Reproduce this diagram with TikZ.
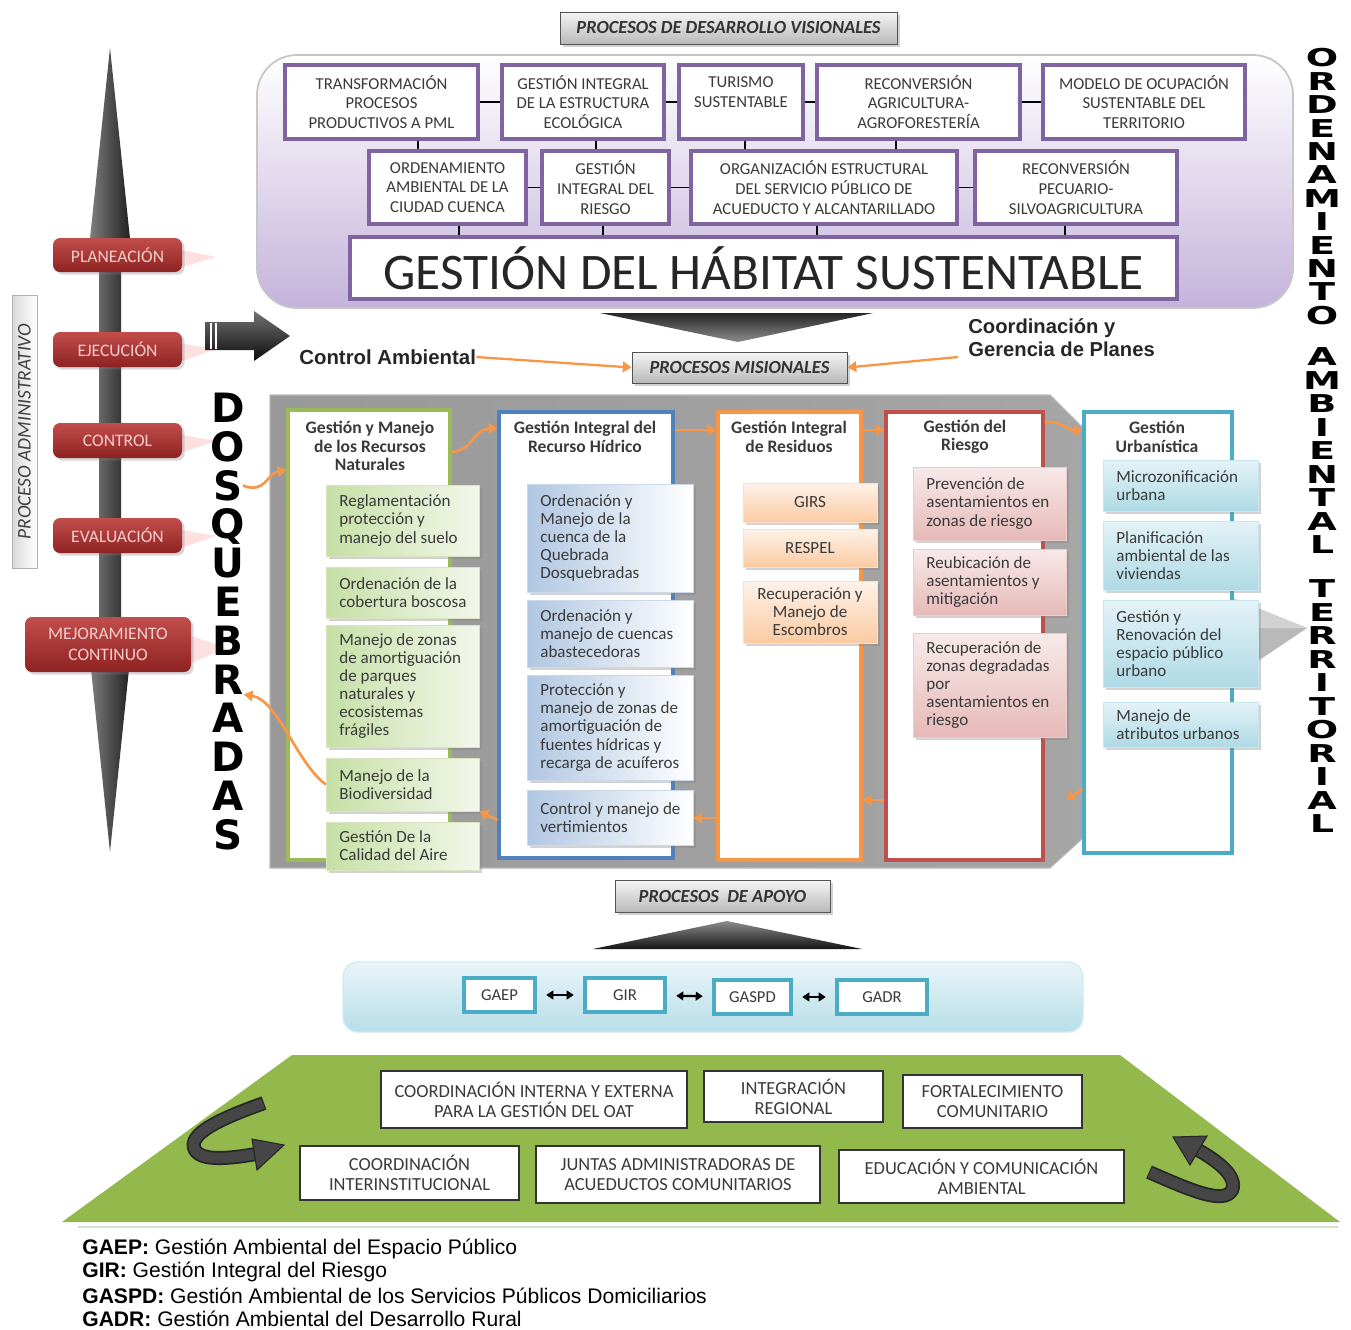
\documentclass[tikz,border=0pt]{standalone}
\usepackage{fontspec}
\setmainfont{Carlito}
\newfontfamily\arialf{Liberation Sans}
\newfontfamily\heavyf{DejaVu Sans}
\newfontfamily\widef{DejaVu Sans}[FakeStretch=1.55]
\usetikzlibrary{shadows,arrows.meta,calc}
\definecolor{purpB}{HTML}{8064A2}
\definecolor{lav}{HTML}{C4B3DB}
\definecolor{grnB}{HTML}{9BBB59}
\definecolor{bluB}{HTML}{4F81BD}
\definecolor{orgB}{HTML}{F79646}
\definecolor{redB}{HTML}{C0504D}
\definecolor{cyaB}{HTML}{4BACC6}
\definecolor{txt}{HTML}{3A3A3A}
\definecolor{trap}{HTML}{93B84C}
\definecolor{rbTop}{HTML}{C24E4B}
\definecolor{rbBot}{HTML}{8E2222}
\definecolor{rbTxt}{HTML}{F3CFCC}
\newcommand\mkbox[7][]{\node[#1,minimum width={(#5-#3)*0.02cm},minimum height={(#6-#4)*0.02cm}] (#2) at ({(#3+#5)/2},{(#4+#6)/2}) {#7};}
\newcommand\subbx[7]{\node[#1,minimum width={(#5-#3)*0.02cm},minimum height={(#6-#4)*0.02cm}] (#2) at ({(#3+#5)/2},{(#4+#6)/2}) {};
\node[subtxt,anchor=west] (#2t) at ({#3+13},{(#4+#6)/2}) {#7};}
\begin{document}
\begin{tikzpicture}[x=0.02cm,y=-0.02cm,
 topbox/.style={draw=purpB,line width=1.8pt,fill=white,align=center,text=txt,font=\fontsize{9.5}{11.3}\selectfont,inner sep=1pt},
 glabel/.style={draw=gray!65!black,line width=0.5pt,top color=gray!8,bottom color=gray!55,font=\fontsize{10.5}{12}\selectfont\bfseries\itshape,text=black!80,drop shadow={opacity=0.35,shadow xshift=1.5pt,shadow yshift=-1.5pt}},
 col/.style={fill=white,line width=1.8pt},
 coltitle/.style={font=\fontsize{10}{10.4}\selectfont\bfseries,align=center,text=txt,inner sep=0pt},
 subtxt/.style={align=left,text=txt,font=\fontsize{9.7}{10.3}\selectfont,inner sep=0pt},
 ctxt/.style={align=center,text=txt,font=\fontsize{9.7}{10.3}\selectfont,inner sep=0pt},
 sh/.style={drop shadow={opacity=0.35,shadow xshift=1.5pt,shadow yshift=-1.5pt}},
 gsub/.style={sh,left color=green!30!olive!35!white,right color=green!20!olive!8!white,draw=grnB!40,line width=0.3pt},
 bsub/.style={sh,left color=bluB!45!white,right color=white,draw=bluB!30,line width=0.3pt},
 osub/.style={sh,top color=orgB!12!white,bottom color=orgB!50!white,draw=orgB!30,line width=0.3pt},
 rsub/.style={sh,top color=redB!12!white,bottom color=redB!40!white,draw=redB!30,line width=0.3pt},
 csub/.style={sh,top color=cyaB!15!white,bottom color=cyaB!45!white,draw=cyaB!30,line width=0.3pt},
 rbtn/.style={rounded corners=4pt,top color=rbTop,bottom color=rbBot,text=rbTxt,font=\fontsize{10}{12}\selectfont,align=center,inner sep=1pt,drop shadow={opacity=0.3,shadow xshift=1.5pt,shadow yshift=-1.5pt}},
 wbox/.style={draw=black!80,line width=0.8pt,fill=white,align=center,text=txt,font=\fontsize{10.5}{11.3}\selectfont,inner sep=1pt},
 abox/.style={draw=cyaB,line width=1.8pt,fill=white,text=txt,font=\fontsize{9.5}{11}\selectfont,inner sep=1pt},
 oarr/.style={draw=orgB,line width=1.5pt,-{Triangle[length=5pt,width=6pt]}},
 dq/.style={font=\heavyf\bfseries\fontsize{23}{23}\selectfont,inner sep=0pt,text height=16.5pt,text depth=0pt},
 ot/.style={font=\widef\bfseries\fontsize{14}{14}\selectfont,inner sep=0pt,text height=10.2pt,text depth=0pt},
 conn/.style={draw=black,line width=0.6pt},
 lg/.style={anchor=west,font=\arialf\fontsize{12}{13}\selectfont,inner sep=0pt}
]
\useasboundingbox (0,0) rectangle (1351,1329);
\fill[white] (0,0) rectangle (1351,1329);

% ---------- top: visional processes ----------
\mkbox[glabel]{pdv}{560}{12}{897}{44}{PROCESOS DE DESARROLLO VISIONALES}
\mkbox[rounded corners=0.8cm,top color=white,bottom color=lav,draw=gray!45,line width=1pt]{purp}{257}{55}{1293}{308}{}

\mkbox[topbox]{B1}{285}{65}{478}{139}{TRANSFORMACIÓN\\PROCESOS\\PRODUCTIVOS A PML}
\mkbox[topbox]{B2}{502}{65}{664}{139}{GESTIÓN INTEGRAL\\DE LA ESTRUCTURA\\ECOLÓGICA}
\mkbox[topbox]{B3}{679}{65}{803}{139}{TURISMO\\SUSTENTABLE\\~}
\mkbox[topbox]{B4}{817}{65}{1020}{139}{RECONVERSIÓN\\AGRICULTURA-\\AGROFORESTERÍA}
\mkbox[topbox]{B5}{1043}{65}{1245}{139}{MODELO DE OCUPACIÓN\\SUSTENTABLE DEL\\TERRITORIO}
\mkbox[topbox]{C1}{369}{151}{526}{224}{ORDENAMIENTO\\AMBIENTAL DE LA\\CIUDAD CUENCA}
\mkbox[topbox]{C2}{542}{151}{669}{224}{GESTIÓN\\INTEGRAL DEL\\RIESGO}
\mkbox[topbox]{C3}{691}{151}{957}{224}{ORGANIZACIÓN ESTRUCTURAL\\DEL SERVICIO PÚBLICO DE\\ACUEDUCTO Y ALCANTARILLADO}
\mkbox[topbox]{C4}{975}{151}{1177}{224}{RECONVERSIÓN\\PECUARIO-\\SILVOAGRICULTURA}
\mkbox[topbox,line width=2pt,font=\fontsize{29.2}{31}\selectfont,text=black!85]{GH}{350}{237}{1177}{299}{GESTIÓN DEL HÁBITAT SUSTENTABLE}

\draw[conn] (B1) -- (B2); \draw[conn] (B2) -- (B3); \draw[conn] (B3) -- (B4); \draw[conn] (B4) -- (B5);
\draw[conn] (C1) -- (C2); \draw[conn] (C2) -- (C3); \draw[conn] (C3) -- (C4);
\draw[conn] (B1.south -| 418,0) -- (C1.north -| 418,0);
\draw[conn] (B2.south -| 596,0) -- (C2.north -| 596,0);
\draw[conn] (B3.south -| 745,0) -- (C3.north -| 745,0);
\draw[conn] (B4.south -| 896,0) -- (C3.north -| 896,0);
\draw[conn] (C1.south -| 459,0) -- (GH.north -| 459,0);
\draw[conn] (C2.south -| 603,0) -- (GH.north -| 603,0);
\draw[conn] (C3.south -| 817,0) -- (GH.north -| 817,0);
\draw[conn] (C4.south -| 1065,0) -- (GH.north -| 1065,0);

% chevron under top block
\shade[top color=black!85,bottom color=black!45] (600,313) -- (873,313) -- (738,342) -- cycle;

% ---------- left administrative process ----------
\shade[left color=black!50,right color=black!88] (110,48) -- (131,248) -- (121,248) -- (121,650) -- (131,650) -- (110,852) -- (89,650) -- (99,650) -- (99,248) -- (89,248) -- cycle;
\foreach \ya/\yb/\yt in {248/270/257, 342/365/349, 433/456/441, 528/551/536} {
  \fill[red!12] (172,\ya) -- (216,\yt) -- (172,\yb) -- cycle;}
\fill[red!12] (180,632) -- (226,648) -- (180,668) -- cycle;
\mkbox[rbtn]{pl}{53}{238}{182}{272}{PLANEACIÓN}
\mkbox[rbtn]{ej}{53}{332}{182}{367}{EJECUCIÓN}
\mkbox[rbtn]{co}{53}{423}{182}{458}{CONTROL}
\mkbox[rbtn]{ev}{53}{518}{182}{553}{EVALUACIÓN}
\mkbox[rbtn]{me}{25}{617}{191}{672}{MEJORAMIENTO\\CONTINUO}
\node[rotate=90,minimum width=273*0.02cm,minimum height=25*0.02cm,draw=gray!60,left color=gray!30,right color=white,font=\itshape\fontsize{11}{12}\selectfont,text=gray!50!black,inner sep=0pt] (pa) at (24.5,431.5) {PROCESO ADMINISTRATIVO};

% black block arrow
\shade[top color=black!55,bottom color=black!95] (205,322) -- (254,322) -- (254,311) -- (290,336) -- (254,361) -- (254,350) -- (205,350) -- cycle;
\draw[white,line width=0.9pt] (211,323) -- (211,349) (216,323) -- (216,349);

% DOSQUEBRADAS
\foreach \l [count=\i from 0] in {D,O,S,Q,U,E,B,R,A,D,A,S} {\node[dq] (dq\i) at (228,{408+38.8*\i}) {\l};}

% ORDENAMIENTO AMBIENTAL TERRITORIAL
\foreach \l [count=\i from 0] in {O,R,D,E,N,A,M,I,E,N,T,O} {\node[ot] (ro\i) at (1322,{58+23.4*\i}) {\l};}
\foreach \l [count=\i from 0] in {A,M,B,I,E,N,T,A,L} {\node[ot] (ra\i) at (1322,{357+23.5*\i}) {\l};}
\foreach \l [count=\i from 0] in {T,E,R,R,I,T,O,R,I,A,L} {\node[ot] (rt\i) at (1322,{589+23.5*\i}) {\l};}

% ---------- missional processes ----------
\mkbox[glabel]{pm}{632}{352}{847}{383}{PROCESOS MISIONALES}
\node[anchor=west,font=\arialf\bfseries\fontsize{11.6}{13}\selectfont,inner sep=0pt,text=black!85] (ca) at (299,357) {Control Ambiental};
\node[anchor=north west,align=left,font=\arialf\bfseries\fontsize{11.5}{13.2}\selectfont,inner sep=0pt,text=black!85] (cg) at (968,318) {Coordinación y\\Gerencia de Planes};
\draw[oarr,line width=1.3pt] (ca.east) -- (pm.west);
\coordinate (cgs) at (958,357);
\draw[oarr,line width=1.3pt] (cgs) -- (pm.east);

% gray panel
\shade[left color=gray!80,middle color=gray!22,right color=gray!70] (270,395) -- (1050,395) -- (1083,428) -- (1083,838) -- (1050,868) -- (270,868) -- cycle;
\draw[gray!55,line width=0.6pt] (270,395) -- (1050,395) -- (1083,428) -- (1083,838) -- (1050,868) -- (270,868) -- cycle;
\fill[gray!55] (1200,585) -- (1307,628) -- (1200,700) -- cycle;
\fill[gray!35] (1200,585) -- (1307,628) -- (1200,628) -- cycle;

% columns
\mkbox[col,draw=grnB]{gr}{288}{410}{450}{860}{}
\mkbox[col,draw=bluB]{bl}{499}{412}{673}{858}{}
\mkbox[col,draw=orgB]{or}{718}{412}{861}{860}{}
\mkbox[col,draw=redB]{rd}{886}{412}{1043}{860}{}
\mkbox[col,draw=cyaB]{cy}{1084}{412}{1232}{853}{}

\node[coltitle] (grt) at (370,446) {Gestión y Manejo\\de los Recursos\\Naturales};
\node[coltitle] (blt) at (585,437) {Gestión Integral del\\Recurso Hídrico};
\node[coltitle] (ort) at (789,437) {Gestión Integral\\de Residuos};
\node[coltitle] (rdt) at (965,437) {Gestión del\\Riesgo};
\node[coltitle] (cyt) at (1157,437) {Gestión\\Urbanística};

\subbx{gsub}{g1}{326}{485}{479}{556}{Reglamentación\\protección y\\manejo del suelo}
\subbx{gsub}{g2}{326}{567}{479}{618}{Ordenación de la\\cobertura boscosa}
\subbx{gsub}{g3}{326}{625}{479}{747}{Manejo de zonas\\de amortiguación\\de parques\\naturales y\\ecosistemas\\frágiles}
\subbx{gsub}{g4}{326}{758}{479}{811}{Manejo de la\\Biodiversidad}
\subbx{gsub}{g5}{326}{822}{479}{870}{Gestión De la\\Calidad del Aire}

\subbx{bsub}{b1}{527}{484}{693}{592}{Ordenación y\\Manejo de la\\cuenca de la\\Quebrada\\Dosquebradas}
\subbx{bsub}{b2}{527}{600}{693}{667}{Ordenación y\\manejo de cuencas\\abastecedoras}
\subbx{bsub}{b3}{527}{675}{693}{780}{Protección y\\manejo de zonas de\\amortiguación de\\fuentes hídricas y\\recarga de acuíferos}
\subbx{bsub}{b4}{527}{790}{693}{845}{Control y manejo de\\vertimientos}

\mkbox[osub,ctxt]{o1}{743}{483}{877}{522}{GIRS}
\mkbox[osub,ctxt]{o2}{743}{529}{877}{567}{RESPEL}
\mkbox[osub,ctxt]{o3}{743}{581}{877}{643}{Recuperación y\\Manejo de\\Escombros}

\subbx{rsub}{r1}{913}{467}{1066}{540}{Prevención de\\asentamientos en\\zonas de riesgo}
\subbx{rsub}{r2}{913}{549}{1066}{615}{Reubicación de\\asentamientos y\\mitigación}
\subbx{rsub}{r3}{913}{633}{1066}{737}{Recuperación de\\zonas degradadas\\por\\asentamientos en\\riesgo}

\subbx{csub}{c1}{1103}{460}{1258}{511}{Microzonificación\\urbana}
\subbx{csub}{c2}{1103}{521}{1258}{590}{Planificación\\ambiental de las\\viviendas}
\subbx{csub}{c3}{1103}{600}{1258}{687}{Gestión y\\Renovación del\\espacio público\\urbano}
\subbx{csub}{c4}{1103}{702}{1258}{747}{Manejo de\\atributos urbanos}

% orange flow arrows
\draw[oarr] (dq2.east) .. controls (266,494) and (266,474) .. (gr.west |- 0,470);
\draw[oarr] (gr.east |- 0,452) .. controls (474,450) and (472,430) .. (bl.west |- 0,428);
\draw[oarr] (bl.east |- 0,430) -- (or.west |- 0,430);
\draw[oarr] (or.east |- 0,430) -- (rd.west |- 0,430);
\draw[oarr] (rd.east |- 0,422) .. controls (1062,421) and (1068,430) .. (cy.west |- 0,431);
\coordinate (k1) at (1066,800);
\draw[oarr] (cy.west |- 0,789) -- (k1);
\draw[oarr] (rd.west |- 0,800) -- (or.east |- 0,800);
\draw[oarr] (or.west |- 0,818) -- (b4.east |- 0,818);
\draw[oarr] (bl.west |- 0,820) -- (g4.south east);
\draw[oarr] (g4.west) .. controls (296,762) and (278,700) .. (dq7.south east);

% ---------- support processes ----------
\mkbox[glabel]{pap}{615}{880}{830}{912}{PROCESOS\ \ DE APOYO}
\shade[top color=black!45,bottom color=black!92] (593,949) -- (727,921) -- (862,949) -- cycle;
\mkbox[rounded corners=0.3cm,top color=cyaB!12!white,bottom color=cyaB!40!white,draw=cyaB!25,line width=0.8pt]{bar}{343}{962}{1083}{1032}{}
\mkbox[abox]{gaep}{464}{978}{535}{1012}{GAEP}
\mkbox[abox]{gir}{585}{978}{665}{1012}{GIR}
\mkbox[abox]{gaspd}{714}{980}{791}{1014}{GASPD}
\mkbox[abox]{gadr}{837}{980}{927}{1014}{GADR}
\draw[{Triangle[length=4pt,width=5pt]}-{Triangle[length=4pt,width=5pt]},line width=1.3pt,shorten >=5.5pt,shorten <=5.5pt] (gaep) -- (gir);
\draw[{Triangle[length=4pt,width=5pt]}-{Triangle[length=4pt,width=5pt]},line width=1.3pt,shorten >=5.5pt,shorten <=5.5pt] (gir) -- (gaspd);
\draw[{Triangle[length=4pt,width=5pt]}-{Triangle[length=4pt,width=5pt]},line width=1.3pt,shorten >=5.5pt,shorten <=5.5pt] (gaspd) -- (gadr);

% green trapezoid
\fill[trap] (292,1055) -- (1120,1055) -- (1340,1222) -- (62,1222) -- cycle;
\draw[green!25!gray!30,line width=1.5pt] (78,1227) -- (1338,1227);
\mkbox[wbox]{w1}{381}{1071}{687}{1128}{COORDINACIÓN INTERNA Y EXTERNA\\PARA LA GESTIÓN DEL OAT}
\mkbox[wbox]{w2}{704}{1071}{883}{1122}{INTEGRACIÓN\\REGIONAL}
\mkbox[wbox]{w3}{903}{1075}{1082}{1128}{FORTALECIMIENTO\\COMUNITARIO}
\mkbox[wbox]{w4}{300}{1146}{519}{1200}{COORDINACIÓN\\INTERINSTITUCIONAL}
\mkbox[wbox]{w5}{536}{1146}{820}{1203}{JUNTAS ADMINISTRADORAS DE\\ACUEDUCTOS COMUNITARIOS}
\mkbox[wbox]{w6}{839}{1150}{1124}{1203}{EDUCACIÓN Y COMUNICACIÓN\\AMBIENTAL}

% ribbon arrows
\draw[black!85,line width=8pt] (264,1103) .. controls (222,1118) and (186,1134) .. (195,1150) .. controls (202,1162) and (232,1158) .. (256,1154);
\draw[gray!55!black,line width=6pt] (263,1103.5) .. controls (222,1118) and (186,1134) .. (195,1150) .. controls (202,1162) and (232,1158) .. (256,1154);
\filldraw[fill=gray!55!black,draw=black!85,line width=0.6pt] (252,1139) -- (284,1145) -- (257,1170) -- cycle;
\draw[black!85,line width=8pt] (1149,1172) .. controls (1190,1190) and (1224,1205) .. (1232,1190) .. controls (1238,1176) and (1216,1160) .. (1198,1150);
\draw[gray!55!black,line width=6pt] (1150,1172.5) .. controls (1190,1190) and (1224,1205) .. (1232,1190) .. controls (1238,1176) and (1216,1160) .. (1198,1150);
\filldraw[fill=gray!55!black,draw=black!85,line width=0.6pt] (1207,1136) -- (1173,1137) -- (1190,1165) -- cycle;

% legend
\node[lg] (lg1) at (82,1249) {\textbf{GAEP:} Gestión Ambiental del Espacio Público};
\node[lg] (lg2) at (82,1272) {\textbf{GIR:} Gestión Integral del Riesgo};
\node[lg] (lg3) at (82,1296) {\textbf{GASPD:} Gestión Ambiental de los Servicios Públicos Domiciliarios};
\node[lg] (lg4) at (82,1319) {\textbf{GADR:} Gestión Ambiental del Desarrollo Rural};
\end{tikzpicture}
\end{document}
